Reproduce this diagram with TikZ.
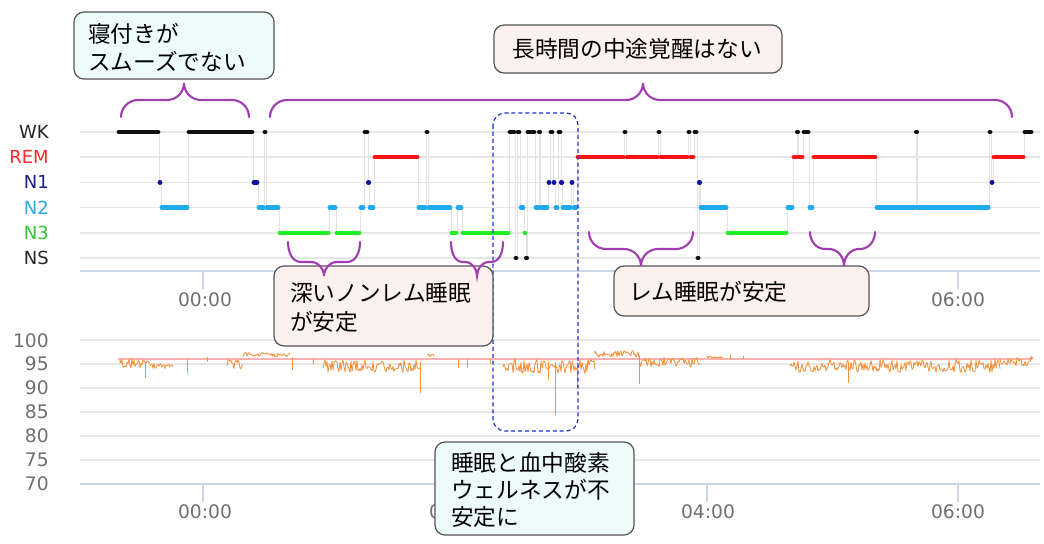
\documentclass[tikz,border=0pt]{standalone}
\usepackage{fontspec}
\setmainfont{DejaVu Sans}
\newfontfamily\jp{Noto Sans CJK JP}
\definecolor{gridc}{HTML}{E6E6E6}
\definecolor{axisc}{HTML}{CCD6EB}
\definecolor{transc}{HTML}{E2E2E2}
\definecolor{spoc}{HTML}{F58F38}
\definecolor{spbase}{HTML}{FFB0B0}
\definecolor{bordc}{HTML}{555555}
\definecolor{cyanf}{HTML}{EEFBFB}
\definecolor{pinkf}{HTML}{FDF1EF}
\definecolor{bracec}{HTML}{A040B0}
\definecolor{focusc}{HTML}{1F2FD0}
\definecolor{axtc}{HTML}{6F6F6F}
\definecolor{st0}{HTML}{111111}
\definecolor{st1}{HTML}{FF1111}
\definecolor{st2}{HTML}{14149A}
\definecolor{st3}{HTML}{1FA9EE}
\definecolor{st4}{HTML}{22EE22}
\definecolor{st5}{HTML}{111111}
\definecolor{lb0}{HTML}{262626}
\definecolor{lb1}{HTML}{FF2A2A}
\definecolor{lb2}{HTML}{1D1D8A}
\definecolor{lb3}{HTML}{29A9E6}
\definecolor{lb4}{HTML}{2EC92E}
\definecolor{lb5}{HTML}{262626}
\newcommand\spnoise[4]{\draw[spo] (#1,#3) \foreach \xx in {#1,...,#2} { -- (\xx,{#3+#4*rand}) };}
\newcommand\spspike[3]{\draw[spo] (#1,#2) -- (#1,#3);}
\newcommand\braceup[3]{\draw[brace] (#1,117) to[out=90,in=180] (#1+17,100) -- (#2-17,100) to[out=0,in=-90] (#2,83) to[out=-90,in=180] (#2+17,100) -- (#3-17,100) to[out=0,in=90] (#3,117);}
\newcommand\bracedn[7]{\draw[brace] (#1,#4) to[out=-90,in=180] (#1+#7,#5) -- (#2-#7,#5) to[out=0,in=90] (#2,#6) to[out=90,in=180] (#2+#7,#5) -- (#3-#7,#5) to[out=0,in=-90] (#3,#4);}
\begin{document}
\begin{tikzpicture}[x=0.75pt,y=-0.75pt,
  gridl/.style={draw=gridc, line width=1.1pt},
  axisl/.style={draw=axisc, line width=1.1pt},
  trans/.style={draw=transc, line width=0.75pt},
  seg/.style={line width=3.4pt, line cap=round},
  spo/.style={draw=spoc, line width=0.6pt, line join=round},
  callc/.style={draw=bordc, fill=cyanf, rounded corners=7.5pt, line width=0.9pt},
  callp/.style={draw=bordc, fill=pinkf, rounded corners=7.5pt, line width=0.9pt},
  brace/.style={draw=bracec, line width=1.6pt, line cap=round},
  focus/.style={draw=focusc, dash pattern=on 3pt off 2.2pt, line width=0.9pt, rounded corners=9pt},
  rowlab/.style={anchor=east, font=\fontsize{13.5}{15}\selectfont, inner sep=0},
  axlab/.style={font=\fontsize{14}{16}\selectfont, text=axtc, inner sep=0},
  jptext/.style={font=\jp\fontsize{17}{21.5}\selectfont, inner sep=0, align=left, text=black}]
\useasboundingbox (0,0) rectangle (1044,543);
\fill[white] (0,0) rectangle (1044,543);
% ---------- hypnogram grid ----------
\foreach \s in {0,...,5} {\draw[gridl] (80,{132+25.2*\s}) -- (1040,{132+25.2*\s});}
\foreach \s/\t in {0/WK,1/REM,2/N1,3/N2,4/N3,5/NS} {\node[rowlab, text=lb\s] (row\s) at (49,{132+25.2*\s}) {\t};}
\draw[axisl] (80,271) -- (1040,271);
\foreach \x in {203,455,707,958} {\draw[axisl] (\x,271) -- (\x,289);}
\node[axlab] (t0a) at (205,300) {00:00};
\node[axlab] (t6a) at (958,300) {06:00};
% ---------- hypnogram data ----------
\def\hyp{0/118/159, 2/159/161, 3/161/188, 0/188/253, 2/253/258, 3/258/264, 0/264/266, 3/266/279,
 4/279/329, 3/329/336, 4/336/360, 3/360/364, 0/364/368, 2/368/369, 3/369/374, 1/374/418,
 3/418/426, 0/426/428, 3/428/451, 4/451/457, 3/457/462, 4/462/509, 0/509/515, 5/515/517,
 0/517/520, 3/520/524, 4/524/526, 5/526/527, 0/527/535, 3/535/539, 0/539/540, 3/540/548,
 2/548/550, 0/550/553, 2/553/555, 3/555/558, 0/558/561, 2/561/562, 3/562/571, 2/571/573,
 3/573/577, 1/577/624, 0/624/626, 1/626/658, 0/658/660, 1/660/688, 0/688/690, 1/690/694,
 0/694/697, 5/697/699, 2/699/700, 3/700/727, 4/727/787, 3/787/793, 1/793/797, 0/797/798,
 1/798/803, 0/803/809, 3/809/813, 1/813/876, 3/876/916, 0/916/917, 3/917/989, 0/989/991,
 2/991/993, 1/993/1024, 0/1024/1032}
\foreach \s/\a/\b [remember=\s as \ps (initially 0)] in \hyp {
  \draw[trans] (\a,{132+25.2*\ps}) -- (\a,{132+25.2*\s});}
\foreach \s/\a/\b in \hyp {
  \draw[seg, draw=st\s] (\a+0.8,{132+25.2*\s}) -- (\b-0.8,{132+25.2*\s});}
% ---------- SpO2 grid ----------
\foreach \y in {340,364,388,412,436,460} {\draw[gridl] (80,\y) -- (1040,\y);}
\draw[axisl] (80,484) -- (1040,484);
\foreach \x in {203,455,707,958} {\draw[axisl] (\x,484) -- (\x,502);}
\foreach \v/\y in {100/341,95/364,90/388,85/412,80/436,75/460,70/484} {\node[axlab, anchor=east] (y\v) at (49,\y) {\v};}
\node[axlab] (t0b) at (205,512) {00:00};
\node[axlab] (t2b) at (456,512) {02:00};
\node[axlab] (t4b) at (708,512) {04:00};
\node[axlab] (t6b) at (958,512) {06:00};
% ---------- SpO2 data ----------
\draw[draw=spbase, line width=0.9pt] (118,359) -- (1032,359);
\pgfmathsetseed{42}
\spnoise{120}{143}{363}{5}
\spnoise{143}{150}{362}{2}
\spnoise{150}{173}{366}{2.5}
\spnoise{227}{243}{364}{5}
\spnoise{243}{290}{355}{2.5}
\spnoise{323}{420}{366}{6.5}
\spnoise{428}{434}{356}{2}
\spnoise{503}{595}{366}{7.5}
\spnoise{595}{640}{354}{3.5}
\spnoise{640}{700}{362}{5}
\spnoise{707}{723}{357}{1.5}
\spnoise{790}{1000}{366}{6.5}
\spnoise{1000}{1033}{361}{5}
\spspike{145}{362}{378}
\spspike{187}{359}{373}
\spspike{207}{357}{362}
\spspike{292}{357}{370}
\spspike{313}{359}{364}
\spspike{420}{362}{393}
\spspike{458}{359}{368}
\spspike{467}{359}{368}
\spspike{490}{359}{364}
\spspike{548}{362}{380}
\spspike{555}{362}{415}
\spspike{577}{362}{388}
\spspike{639}{356}{384}
\spspike{730}{359}{355}
\spspike{743}{359}{356}
\spspike{848}{364}{383}
% ---------- focus box ----------
\draw[focus] (493,113) rectangle (578,431);
% ---------- callouts ----------
\draw[callc] (74,12) rectangle (274,79);
\node[jptext, anchor=west] (c1) at (88,47.5) {寝付きが\\スムーズでない};
\draw[callp] (494,25) rectangle (782,73);
\node[jptext, anchor=center] (c2) at (637,49) {長時間の中途覚醒はない};
\draw[callp] (274,266) rectangle (493,346);
\node[jptext, anchor=west] (c3) at (290,307.5) {深いノンレム睡眠\\が安定};
\draw[callp] (614,266) rectangle (869,316);
\node[jptext, anchor=west] (c4) at (629,292) {レム睡眠が安定};
\draw[callc] (435,442) rectangle (634,535);
\node[jptext, anchor=west, font=\jp\fontsize{17}{20.5}\selectfont] (c5) at (451,490) {睡眠と血中酸素\\ウェルネスが不\\安定に};
% ---------- braces ----------
\braceup{121}{184}{249}
\braceup{270}{643}{1012}
\bracedn{288}{324}{360}{242}{262}{276}{13}
\bracedn{451}{477}{503}{242}{262}{276}{12}
\bracedn{589}{641}{693}{232}{249}{266}{17}
\bracedn{810}{844}{875}{232}{249}{266}{15}
\end{tikzpicture}
\end{document}
